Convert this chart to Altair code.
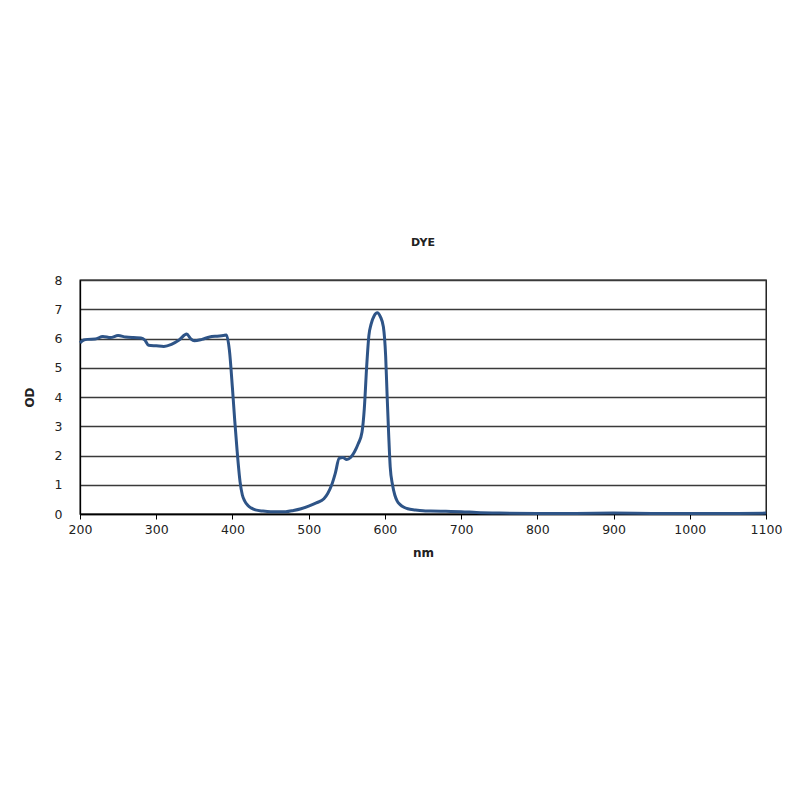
import altair as alt
import pandas as pd

wavelength = [200, 205, 210, 220, 230, 240, 250, 260, 270, 280, 285, 290, 300, 310, 320, 330, 340, 345, 350, 360,
              370, 380, 388, 392, 396, 400, 403, 406, 410, 413, 416, 420, 425, 430, 440, 450, 460, 470, 480,
              490, 500, 510, 520, 525, 530, 535, 540, 545, 550, 555, 560, 565, 570, 573, 576, 579, 582,
              586, 590, 594, 598, 601, 603, 605, 607, 610, 613, 616, 620, 625, 630, 640, 650, 660, 680,
              700, 720, 750, 800, 850, 900, 950, 1000, 1050, 1100]
od = [5.85, 5.95, 5.97, 5.98, 6.07, 6.03, 6.1, 6.05, 6.03, 6.02, 5.95, 5.77, 5.75, 5.73, 5.8, 5.95, 6.15, 6.0, 5.92, 5.97,
      6.05, 6.08, 6.1, 6.12, 5.6, 4.3, 3.2, 2.2, 1.1, 0.65, 0.45, 0.3, 0.2, 0.14, 0.1, 0.08, 0.08, 0.08, 0.12,
      0.18, 0.27, 0.38, 0.52, 0.7, 0.98, 1.4, 1.9, 1.93, 1.86, 1.93, 2.12, 2.4, 2.8, 3.6, 5.0, 6.1, 6.5,
      6.78, 6.88, 6.75, 6.4, 5.4, 4.0, 2.7, 1.6, 1.0, 0.65, 0.45, 0.32, 0.23, 0.18, 0.14, 0.11, 0.1, 0.09,
      0.08, 0.05, 0.03, 0.02, 0.02, 0.03, 0.02, 0.02, 0.02, 0.03]

df = pd.DataFrame({"nm": wavelength, "OD": od})

chart = alt.Chart(df).mark_line(
    color="#2e5487", strokeWidth=3, interpolate="monotone"
).encode(
    x=alt.X("nm:Q", scale=alt.Scale(domain=[200, 1100], nice=False),
            axis=alt.Axis(values=list(range(200, 1101, 100)), format="d", title="nm", grid=False,
                          tickSize=5, labelPadding=4, titlePadding=12, labelFlush=False,
                          labelOverlap=False,
                          domainColor="#000", tickColor="#000")),
    y=alt.Y("OD:Q", scale=alt.Scale(domain=[0, 8], nice=False),
            axis=alt.Axis(values=list(range(0, 9)), format="d", title="OD", grid=True,
                          gridColor="#3a3a3a", gridWidth=1.3, ticks=False, labelPadding=18,
                          titlePadding=18, domainColor="#000")),
).properties(
    width=686, height=234,
    title=alt.TitleParams("DYE", fontSize=11, fontWeight="bold", font="DejaVu Sans",
                          color="#222", offset=26),
    autosize=alt.AutoSizeParams(type="none"),
    padding={"left": 72, "top": 272, "right": 26, "bottom": 270},
).configure_view(
    stroke="#000", strokeWidth=1.3
).configure_axis(
    labelFont="DejaVu Sans", labelFontSize=12.5, labelColor="#222",
    titleFont="DejaVu Sans", titleFontSize=12, titleFontWeight="bold", titleColor="#222",
    domainWidth=1.3
)

chart.save("out.html", embed_options={"renderer": "svg", "actions": False})
